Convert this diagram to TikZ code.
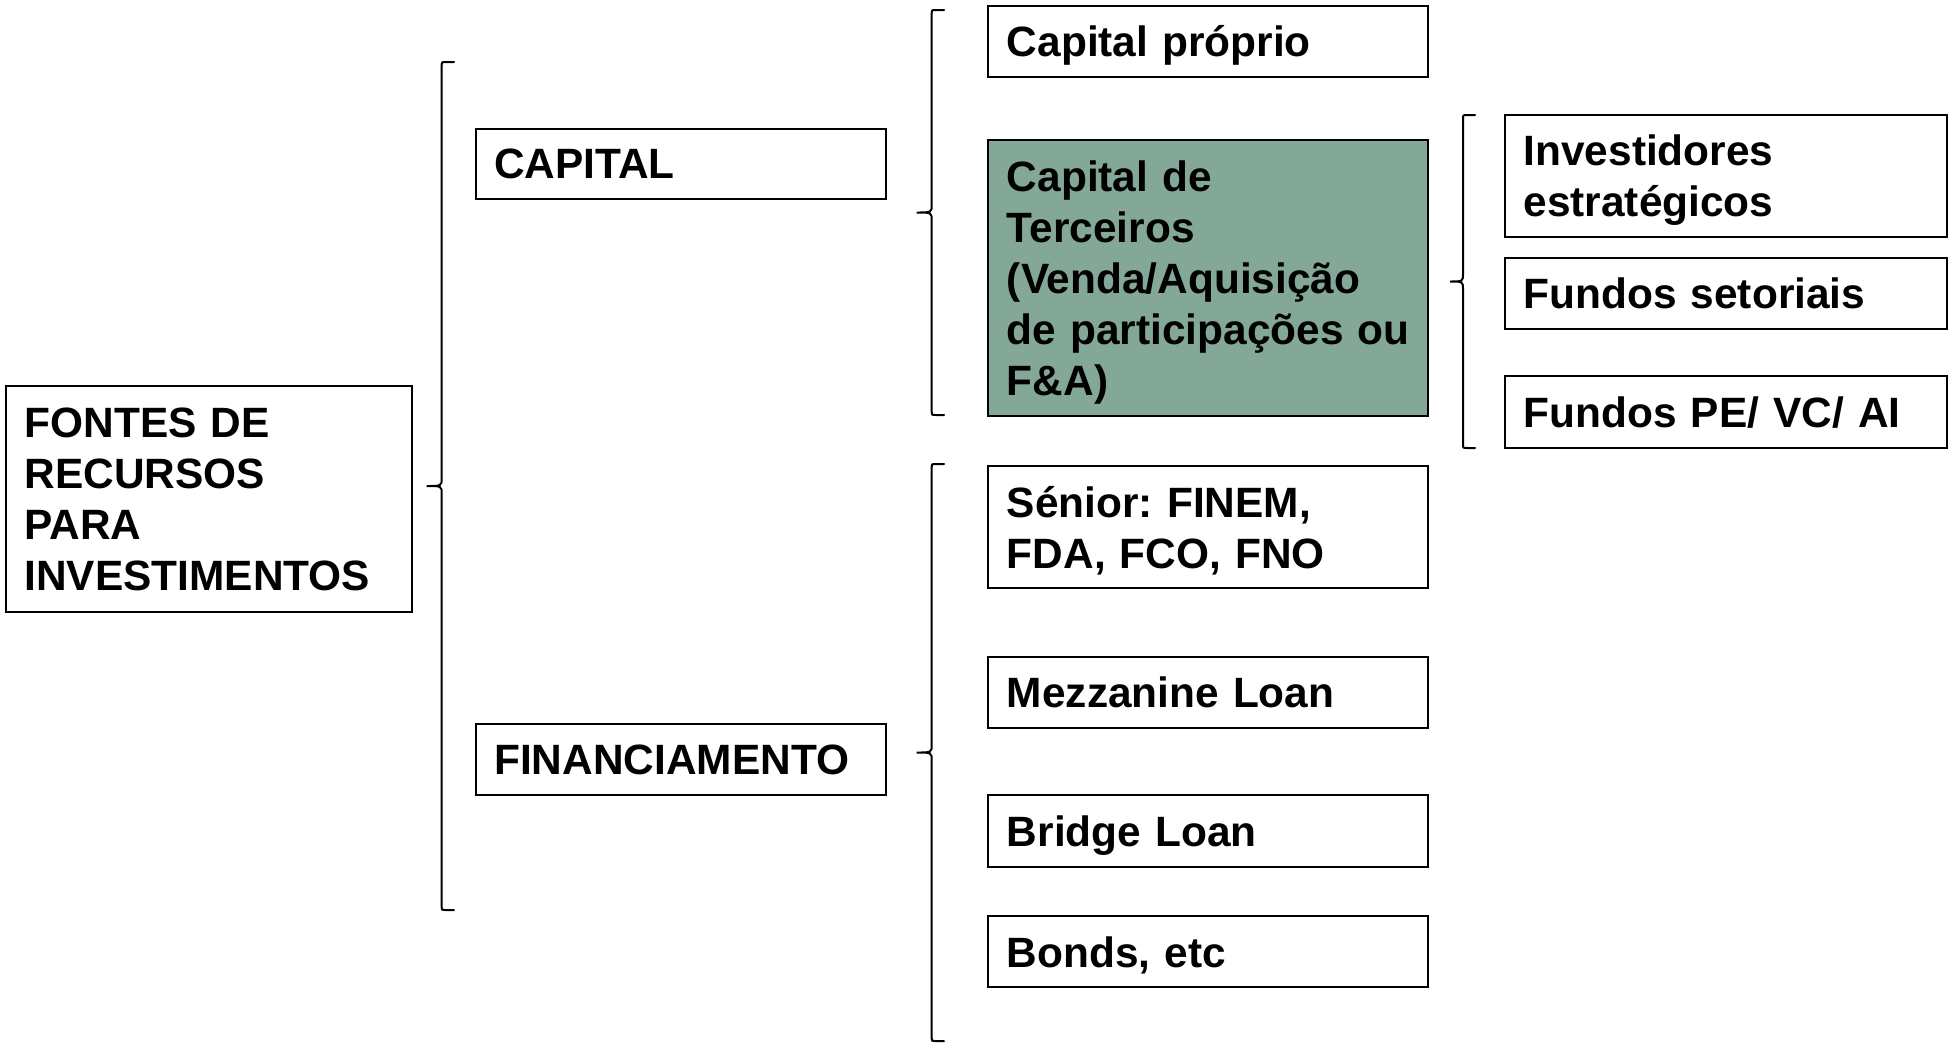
\documentclass[tikz,border=0pt]{standalone}
\usepackage{fontspec}
\setmainfont{Liberation Sans}
\usepackage{tikz}
\definecolor{sage}{RGB}{132,168,152}
\frenchspacing

\tikzset{
  box/.style={draw=black, line width=1pt, inner xsep=9.3pt, inner ysep=0pt,
    align=left, font=\fontsize{21.2}{25.5}\selectfont\bfseries},
  oneline/.style={box, text depth=0pt},
  multi/.style={box, execute at end node={\par\kern-\prevdepth}},
  brk/.style={line width=1pt, line cap=round}
}

\begin{document}
\begin{tikzpicture}[x=0.5pt,y=-0.5pt]
				\useasboundingbox (0,0) rectangle (1955,1045);
				%Nodes
				\node[multi, text width=184.3pt, minimum height=113.2pt] (fontes) at (208.9,499.2) {FONTES DE\\RECURSOS\\PARA\\INVESTIMENTOS};
				\node[oneline, text width=186.7pt, minimum height=35.4pt] (capital) at (681,164) {CAPITAL};
				\node[oneline, text width=186.7pt, minimum height=35.4pt] (financ) at (681,759.2) {FINANCIAMENTO};
				
				\node[oneline, text width=201.4pt, minimum height=35.4pt] (proprio) at (1208.3,41.4) {Capital próprio};
				\node[multi, fill=sage, text width=201.4pt, minimum height=138pt] (terceiros) at (1208.3,277.7) {Capital de\\Terceiros\\(Venda/Aquisição\\\mbox{de participações ou}\\F\&A)};
				
				\node[multi, text width=202.2pt, minimum height=61pt] (estrat) at (1725.8,176) {Investidores\\estratégicos};
				\node[oneline, text width=202.2pt, minimum height=35.5pt] (setoriais) at (1725.8,293.5) {Fundos setoriais};
				\node[oneline, text width=202.2pt, minimum height=36pt] (pevc) at (1725.8,412) {Fundos PE/ VC/ AI};
				
				\node[multi, text width=201.4pt, minimum height=61.3pt] (senior) at (1208.3,527) {Sénior: FINEM,\\FDA, FCO, FNO};
				\node[oneline, text width=201.4pt, minimum height=35.4pt] (mezz) at (1208.3,692.4) {Mezzanine Loan};
				\node[oneline, text width=201.4pt, minimum height=35.8pt] (bridge) at (1208.3,830.9) {Bridge Loan};
				\node[oneline, text width=201.4pt, minimum height=35.6pt] (bonds) at (1208.3,951.7) {Bonds, etc};
				
				%Braces
				\coordinate (b1t) at (454,62);
				\coordinate (b1b) at (454,910);
				\coordinate (b2t) at (944,10);
				\coordinate (b2b) at (944,415);
				\coordinate (b3t) at (944,464);
				\coordinate (b3b) at (944,1041);
				\coordinate (b4t) at (1475,115);
				\coordinate (b4b) at (1475,448);
				
				\draw[brk] (b1t) -- (445.7,62) .. controls (441.7,62) .. (441.7,66) -- (441.7,478)
					.. controls (441.7,486) .. (426.7,486) .. controls (441.7,486) .. (441.7,494)
					-- (441.7,906) .. controls (441.7,910) .. (445.7,910) -- (b1b);
				\draw[brk] (b2t) -- (935.7,10) .. controls (931.7,10) .. (931.7,14) -- (931.7,204.5)
					.. controls (931.7,212.5) .. (916.7,212.5) .. controls (931.7,212.5) .. (931.7,220.5)
					-- (931.7,411) .. controls (931.7,415) .. (935.7,415) -- (b2b);
				\draw[brk] (b3t) -- (935.7,464) .. controls (931.7,464) .. (931.7,468) -- (931.7,744.5)
					.. controls (931.7,752.5) .. (916.7,752.5) .. controls (931.7,752.5) .. (931.7,760.5)
					-- (931.7,1037) .. controls (931.7,1041) .. (935.7,1041) -- (b3b);
				\draw[brk] (b4t) -- (1467,115) .. controls (1463,115) .. (1463,119) -- (1463,273.5)
					.. controls (1463,281.5) .. (1450,281.5) .. controls (1463,281.5) .. (1463,289.5)
					-- (1463,444) .. controls (1463,448) .. (1467,448) -- (b4b);
		\end{tikzpicture}
\end{document}
